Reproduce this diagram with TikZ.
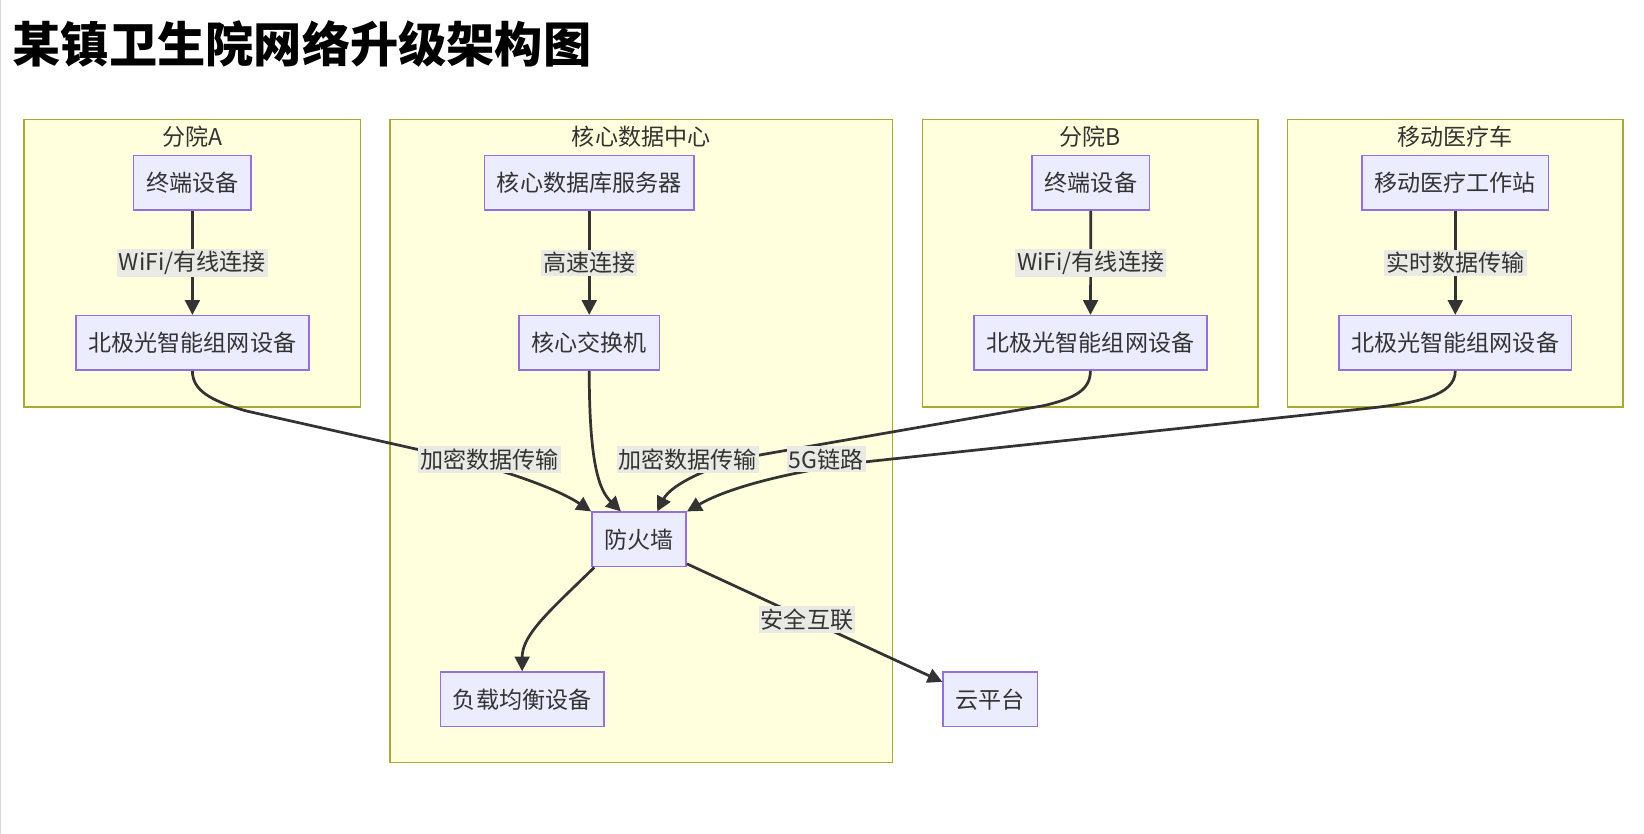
\documentclass[tikz,border=0pt]{standalone}
\usepackage{fontspec}
\setmainfont{Noto Sans CJK SC}
\usetikzlibrary{arrows.meta}
\definecolor{clfill}{HTML}{FFFFDE}
\definecolor{cldraw}{HTML}{AAAA33}
\definecolor{ndfill}{HTML}{ECECFF}
\definecolor{nddraw}{HTML}{9370DB}
\definecolor{edgecol}{HTML}{333333}
\definecolor{lblfill}{HTML}{EAEAE4}
\tikzset{
  cluster/.style={fill=clfill,draw=cldraw,line width=0.7pt},
  link/.style={draw=edgecol,line width=1.3pt,-{Triangle[length=7pt,width=7pt]}}
}
\begin{document}
\begin{tikzpicture}[x=0.5pt,y=-0.5pt,font=\fontsize{11}{13}\selectfont]
  \useasboundingbox (0,0) rectangle (1568,795);
  \draw[black!15,line width=0.6pt] (0.6,0) -- (0.6,795);
  \node[anchor=west,font=\fontsize{23}{27}\selectfont\bfseries] (title) at (5,42) {某镇卫生院网络升级架构图};

  % subgraphs
  \draw[cluster] (23,114) rectangle (344,388);
  \draw[cluster] (372,114) rectangle (851,727);
  \draw[cluster] (880,114) rectangle (1200,388);
  \draw[cluster] (1228,114) rectangle (1548,388);
  \begin{scope}[every node/.style={text=edgecol}]
    \node (tA) at (183.5,130) {分院A};
    \node (tC) at (611.5,130) {核心数据中心};
    \node (tB) at (1040,130) {分院B};
    \node (tM) at (1388,130) {移动医疗车};
  \end{scope}

  \begin{scope}[every node/.style={draw=nddraw,fill=ndfill,line width=0.7pt,
      minimum height=26pt,inner xsep=6pt,text=edgecol}]
    \node (aT)    at (183.5,174.5) {终端设备};
    \node (aN)    at (183.5,327)   {北极光智能组网设备};
    \node (db)    at (562,174.5)   {核心数据库服务器};
    \node (sw)    at (562,327)     {核心交换机};
    \node (fw)    at (609.5,514.5) {防火墙};
    \node (lb)    at (498,667)     {负载均衡设备};
    \node (cloud) at (944.5,667)   {云平台};
    \node (bT)    at (1040.5,174.5) {终端设备};
    \node (bN)    at (1040,327)    {北极光智能组网设备};
    \node (mW)    at (1388,174.5)  {移动医疗工作站};
    \node (mN)    at (1388,327)    {北极光智能组网设备};
  \end{scope}

  % curved links
  \draw[link] (aN.south) .. controls (183.5,372) and (200,382) .. (235,392)
    -- (400,429) .. controls (470,444) and (530,465) .. (fw.north west);
  \draw[link] (sw.south) .. controls (562,445) and (572,468) .. (fw.123);
  \draw[link] (bN.south) .. controls (1040,372) and (1025,380) .. (995,387)
    -- (730,433) .. controls (680,442) and (640,462) .. (fw.57);
  \draw[link] (mN.south) .. controls (1388,378) and (1350,384) .. (1309,389)
    -- (830,440) .. controls (770,447) and (700,462) .. (fw.north east);
  \draw[link] (fw.212) .. controls (525,582) and (498,605) .. (lb.north);

  \begin{scope}[every node/.style={fill=lblfill,inner xsep=1pt,inner ysep=1.2pt,text=edgecol}]
    \begin{scope}[every edge/.style={link}]
      \path (aT) edge node {WiFi/有线连接} (aN);
      \path (db) edge node {高速连接} (sw);
      \path (bT) edge node {WiFi/有线连接} (bN);
      \path (mW) edge node {实时数据传输} (mN);
      \path (fw.-27) edge node[pos=.47] {安全互联} (cloud.160);
    \end{scope}
    \node (l1) at (467,438) {加密数据传输};
    \node (l2) at (656,438) {加密数据传输};
    \node (l3) at (788,438) {5G链路};
  \end{scope}

\end{tikzpicture}
\end{document}
